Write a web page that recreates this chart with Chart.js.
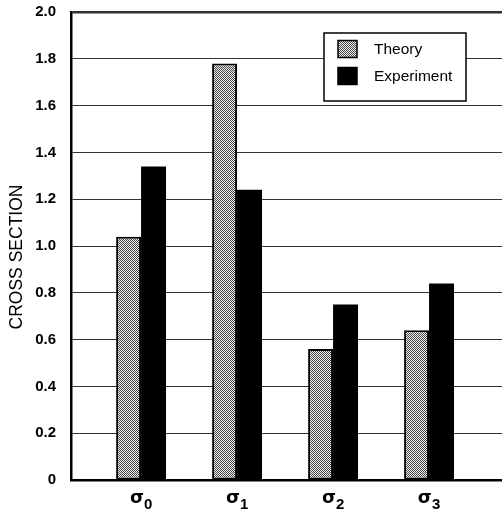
<!DOCTYPE html>
<html>
<head>
<meta charset="utf-8">
<script src="https://cdn.jsdelivr.net/npm/chart.js@4/dist/chart.umd.min.js"></script>
<style>
  html, body { margin: 0; padding: 0; background: #fff; }
  #wrap { width: 502px; height: 512px; }
</style>
</head>
<body>
<div id="wrap"><canvas id="c" width="502" height="512"></canvas></div>
<script>
// Cross sections for each state: symbol plus subscript index
const stateSymbol = ['σ', 'σ', 'σ', 'σ'];
const stateIndex = ['0', '1', '2', '3'];
const theory = [1.04, 1.78, 0.56, 0.64];
const experiment = [1.34, 1.24, 0.75, 0.84];
const seriesNames = ['Theory', 'Experiment'];
const yTicks = [0, 0.2, 0.4, 0.6, 0.8, 1.0, 1.2, 1.4, 1.6, 1.8, 2.0];
const yTitle = 'CROSS SECTION';

const FONT = '"Liberation Sans", Arial, sans-serif';

// Stippled fill for the theory bars
function stipple() {
  const p = document.createElement('canvas');
  p.width = 2; p.height = 2;
  const g = p.getContext('2d');
  g.fillStyle = '#ececec'; g.fillRect(0, 0, 2, 2);
  g.fillStyle = '#4a4a4a';
  g.fillRect(0, 0, 1, 1);
  g.fillRect(1, 1, 1, 1);
  return g.createPattern(p, 'repeat');
}
const ctx = document.getElementById('c').getContext('2d');
const theoryFill = stipple();

const toPoints = arr => arr.map((v, i) => ({ x: i, y: v }));

// Boxed legend, subscripted state labels and the rotated axis title
const decorations = {
  id: 'decorations',
  afterDatasetsDraw(chart) {
    const c = chart.ctx;
    c.save();

    // legend box
    const x0 = 324, y0 = 33, w = 142, h = 68;
    c.fillStyle = '#fff';
    c.fillRect(x0, y0, w, h);
    c.strokeStyle = '#000';
    c.lineWidth = 1.5;
    c.strokeRect(x0, y0, w, h);
    const rows = [48.5, 75.5];
    chart.data.datasets.forEach((ds, i) => {
      const cy = rows[i];
      c.fillStyle = ds.backgroundColor;
      c.fillRect(338, cy - 8, 19, 17);
      c.strokeStyle = '#000';
      c.lineWidth = 1.5;
      c.strokeRect(338, cy - 8, 19, 17);
      c.fillStyle = '#000';
      c.font = '15.5px ' + FONT;
      c.textBaseline = 'middle';
      c.textAlign = 'left';
      c.fillText(ds.label, 374, cy + 1);
    });

    // state labels under the x axis
    const xs = chart.scales.x;
    const symFont = 'bold 18px "DejaVu Sans", ' + FONT;
    const subFont = 'bold 15px ' + FONT;
    c.fillStyle = '#000';
    c.textBaseline = 'alphabetic';
    c.textAlign = 'left';
    stateSymbol.forEach((s, i) => {
      const cx = xs.getPixelForValue(i);
      c.font = symFont;
      const sw = c.measureText(s).width;
      c.font = subFont;
      const iw = c.measureText(stateIndex[i]).width;
      const left = cx - (sw + iw) / 2;
      c.font = symFont;
      c.fillText(s, left, 503);
      c.font = subFont;
      c.fillText(stateIndex[i], left + sw, 509);
    });

    // y axis title
    c.translate(17, 257);
    c.rotate(-Math.PI / 2);
    c.font = '17.5px ' + FONT;
    c.textAlign = 'center';
    c.textBaseline = 'middle';
    c.fillText(yTitle, 0, 0);
    c.restore();
  }
};

new Chart(ctx, {
  type: 'bar',
  data: {
    datasets: [
      {
        label: seriesNames[0],
        data: toPoints(theory),
        backgroundColor: theoryFill,
        borderColor: '#000',
        borderWidth: 2,
        borderSkipped: false
      },
      {
        label: seriesNames[1],
        data: toPoints(experiment),
        backgroundColor: '#000',
        borderColor: '#000',
        borderWidth: 0
      }
    ]
  },
  options: {
    responsive: false,
    animation: false,
    devicePixelRatio: 1,
    layout: { padding: { left: 0, right: 0, top: 12, bottom: 0 } },
    datasets: {
      bar: { barPercentage: 1.0, categoryPercentage: 0.52, grouped: true }
    },
    plugins: {
      legend: { display: false },
      tooltip: { enabled: false }
    },
    scales: {
      x: {
        type: 'linear',
        offset: false,
        min: -0.73,
        max: 3.76,
        afterBuildTicks(scale) {
          scale.ticks = stateIndex.map((s, i) => ({ value: i }));
        },
        afterFit(scale) {
          scale.height = 32;
          scale.paddingLeft = 0;
          scale.paddingRight = 0;
        },
        grid: { display: false, drawTicks: false },
        border: { display: true, color: '#000', width: 2.5 },
        ticks: { display: false }
      },
      y: {
        min: 0,
        max: 2.0,
        afterBuildTicks(scale) {
          scale.ticks = yTicks.map(v => ({ value: v }));
        },
        afterFit(scale) {
          scale.width = 71;
          scale.paddingTop = 0;
          scale.paddingBottom = 0;
        },
        grid: {
          color: '#333',
          lineWidth: (c) => (c.tick && c.tick.value === 2.0 ? 2.5 : 1),
          drawTicks: false
        },
        border: { display: true, color: '#000', width: 2.5 },
        ticks: {
          padding: 15,
          color: '#000',
          font: { family: FONT, size: 15, weight: 'bold' },
          callback: (v) => (v === 0 ? '0' : Number(v).toFixed(1))
        },
        title: { display: false }
      }
    }
  },
  plugins: [decorations]
});
</script>
</body>
</html>
